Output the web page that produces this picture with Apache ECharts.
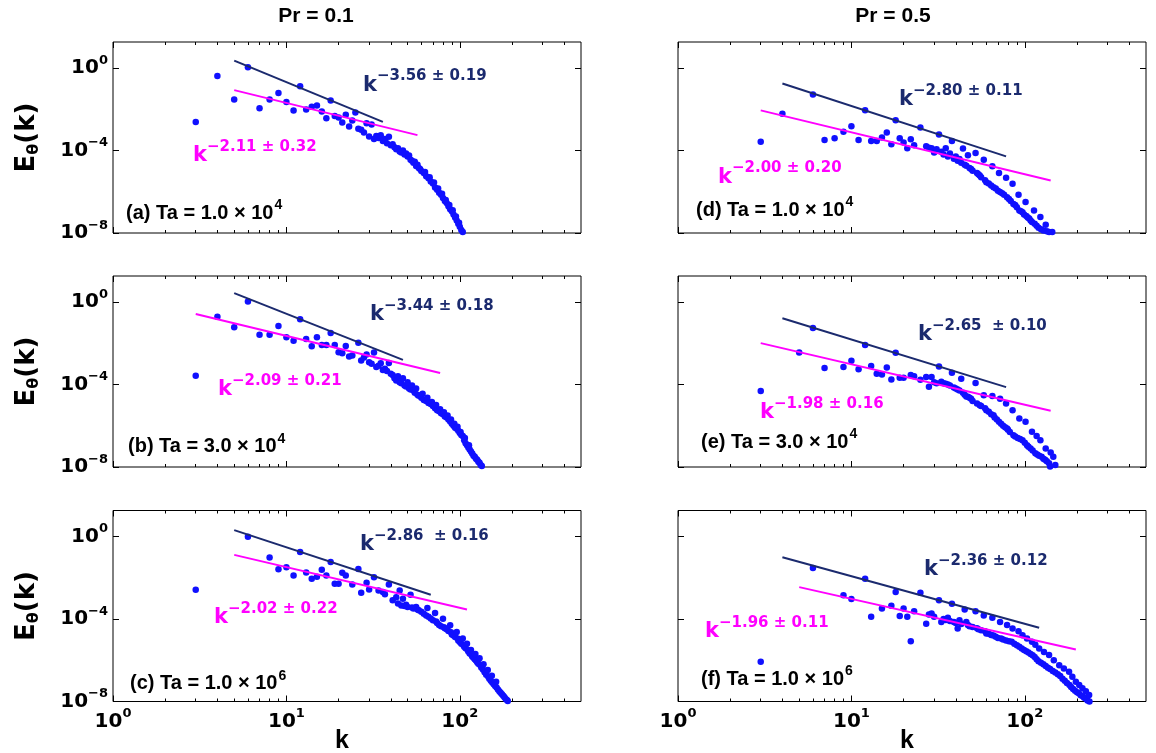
<!DOCTYPE html>
<html>
<head>
<meta charset="utf-8">
<title>Temperature spectra</title>
<script src="https://cdn.jsdelivr.net/npm/echarts@6/dist/echarts.min.js"></script>
<style>
  html, body { margin: 0; padding: 0; background: #fff; }
  #chart { width: 1156px; height: 753px; }
</style>
</head>
<body>
<div id="chart"></div>
<script>
// spectra: [k, log10 E_theta(k)]
const pointsA = [
  [3,-2.62],[4,-0.40],[5,-1.53],[6,0.03],[7,-1.96],[8,-1.53],[9,-1.22],[10,-1.66],[11,-2.07],[12,-0.89],
  [13,-2.02],[14,-1.88],[15,-1.82],[16,-2.12],[17,-2.44],[18,-1.58],[19,-2.33],[20,-2.41],[21,-2.65],[22,-2.27],
  [23,-2.84],[24,-2.55],[25,-2.17],[26,-2.95],[27,-3.0],[28,-3.13],[29,-2.68],[30,-3.33],[31,-2.75],[32,-3.45],
  [33,-3.3],[34,-3.4],[35,-3.26],[36,-3.55],[37,-3.45],[38,-3.65],[39,-3.34],[40,-3.75],[41,-3.7],[42,-3.85],
  [43,-3.94],[44,-3.9],[45,-4.05],[46,-4.1],[47,-4.0],[48,-4.2],[49,-4.15],[50,-4.3],[51,-4.25],[52,-4.45],
  [53,-4.5],[54,-4.6],[55,-4.55],[56,-4.75],[57,-4.7],[58,-4.85],[59,-4.9],[60,-5.0],[62,-5.1],[63,-5.05],
  [64,-5.25],[66,-5.35],[67,-5.3],[68,-5.5],[70,-5.6],[71,-5.55],[72,-5.8],[74,-5.9],[75,-5.85],[76,-6.05],
  [78,-6.15],[79,-6.1],[80,-6.3],[82,-6.45],[83,-6.4],[84,-6.55],[86,-6.7],[87,-6.65],[88,-6.85],[90,-6.95],
  [91,-6.9],[92,-7.1],[94,-7.25],[95,-7.2],[96,-7.4],[98,-7.55],[99,-7.5],[100,-7.7],[102,-7.85],[104,-7.95]
];
const pointsB = [
  [3,-3.58],[4,-0.72],[5,-1.23],[6,0.02],[7,-1.60],[8,-1.60],[9,-1.17],[10,-1.72],[11,-1.88],[12,-0.85],
  [13,-1.80],[14,-2.15],[15,-1.72],[16,-2.09],[17,-2.09],[18,-1.51],[19,-2.09],[20,-2.44],[21,-2.49],[22,-2.14],
  [23,-2.65],[24,-2.6],[26,-1.98],[27,-2.84],[28,-2.7],[29,-2.55],[30,-2.93],[31,-3.0],[32,-2.45],[33,-3.16],
  [34,-3.1],[35,-2.97],[36,-3.3],[37,-3.24],[38,-3.35],[39,-2.96],[40,-3.48],[41,-3.55],[42,-3.7],[43,-3.81],
  [44,-3.6],[45,-3.9],[46,-3.95],[47,-3.7],[48,-4.05],[49,-4.1],[50,-3.9],[51,-4.2],[52,-4.25],[53,-4.05],
  [54,-4.3],[55,-4.4],[56,-4.2],[57,-4.5],[58,-4.55],[60,-4.65],[61,-4.45],[62,-4.75],[64,-4.8],[65,-4.65],
  [66,-4.9],[68,-4.95],[69,-4.85],[70,-5.05],[72,-5.15],[73,-5.0],[74,-5.25],[76,-5.3],[77,-5.2],[78,-5.4],
  [80,-5.45],[81,-5.35],[82,-5.55],[84,-5.6],[85,-5.5],[86,-5.7],[88,-5.8],[89,-5.7],[90,-5.9],[92,-6.0],
  [93,-5.9],[94,-6.1],[96,-6.15],[97,-6.05],[98,-6.25],[100,-6.35],[101,-6.3],[102,-6.45],[104,-6.5],[106,-6.7],
  [107,-6.6],[108,-6.85],[110,-6.95],[112,-7.05],[113,-6.95],[114,-7.15],[116,-7.25],[118,-7.35],[120,-7.45],[122,-7.5],
  [124,-7.6],[126,-7.65],[128,-7.75],[130,-7.8],[132,-7.9],[134,-7.95]
];
const pointsC = [
  [3,-2.59],[6,-0.02],[8,-1.03],[9,-1.59],[10,-1.50],[11,-1.90],[12,-0.76],[13,-1.75],[14,-2.05],[15,-1.96],
  [16,-1.62],[17,-1.90],[18,-1.25],[19,-2.30],[20,-2.30],[21,-1.77],[22,-1.90],[24,-2.33],[26,-1.58],[27,-2.73],
  [29,-2.25],[30,-2.57],[32,-1.98],[34,-2.62],[36,-2.70],[37,-2.8],[39,-2.33],[41,-3.1],[43,-2.95],[44,-3.25],
  [45,-2.62],[46,-3.35],[47,-3.02],[48,-3.38],[49,-3.31],[50,-3.42],[52,-2.83],[53,-3.45],[54,-3.5],[56,-3.42],
  [57,-3.55],[58,-3.58],[60,-3.65],[62,-3.75],[64,-3.83],[65,-3.47],[66,-3.9],[68,-3.98],[70,-4.07],[72,-3.71],
  [73,-4.13],[74,-4.2],[76,-4.3],[78,-4.35],[80,-3.99],[81,-4.4],[82,-4.45],[84,-4.5],[86,-4.58],[88,-4.31],
  [89,-4.65],[90,-4.75],[92,-4.8],[94,-4.88],[96,-4.63],[97,-4.95],[98,-5.05],[100,-5.12],[102,-5.2],[104,-4.95],
  [105,-5.27],[106,-5.35],[108,-5.42],[110,-5.2],[111,-5.5],[112,-5.58],[114,-5.67],[116,-5.51],[117,-5.75],[118,-5.82],
  [120,-5.88],[122,-5.95],[123,-5.7],[124,-6.02],[126,-6.1],[128,-6.17],[130,-5.91],[131,-6.23],[133,-6.35],[136,-6.45],
  [137,-6.2],[139,-6.58],[142,-6.7],[145,-6.48],[146,-6.8],[148,-6.9],[151,-7.0],[153,-6.75],[154,-7.08],[157,-7.17],
  [160,-7.25],[162,-7.04],[163,-7.32],[166,-7.42],[169,-7.5],[172,-7.58],[175,-7.65],[178,-7.72],[181,-7.8],[184,-7.88],
  [187,-7.93],[189,-7.97]
];
const pointsD = [
  [3,-3.58],[4,-2.22],[6,-1.29],[7,-3.50],[8,-3.41],[9,-3.10],[10,-2.83],[11,-3.50],[12,-2.06],[13,-3.54],
  [14,-3.54],[15,-3.38],[16,-3.13],[17,-3.70],[18,-2.54],[19,-3.41],[20,-3.62],[21,-3.90],[22,-3.46],[23,-3.75],
  [25,-2.89],[27,-3.80],[28,-3.87],[29,-3.90],[30,-4.1],[31,-3.95],[32,-3.23],[33,-4.07],[34,-4.2],[35,-3.89],
  [36,-4.3],[37,-4.15],[38,-3.54],[39,-4.4],[40,-4.29],[41,-4.5],[42,-4.42],[43,-4.6],[44,-3.91],[45,-4.7],
  [46,-4.74],[47,-4.23],[48,-4.85],[49,-4.9],[50,-4.98],[52,-4.13],[53,-5.1],[54,-5.15],[55,-5.22],[56,-5.3],
  [58,-4.45],[59,-5.45],[60,-5.54],[62,-5.6],[64,-5.7],[65,-4.77],[66,-5.78],[68,-5.85],[70,-5.95],[71,-5.1],
  [72,-6.02],[74,-6.08],[76,-6.15],[78,-5.33],[79,-6.27],[81,-6.35],[83,-6.45],[85,-5.62],[86,-6.59],[88,-6.65],
  [90,-6.75],[92,-6.15],[93,-6.91],[95,-6.95],[97,-7.0],[99,-7.1],[101,-6.5],[102,-7.18],[104,-7.25],[106,-7.3],
  [108,-7.4],[110,-7.47],[113,-6.91],[114,-7.55],[117,-7.65],[120,-7.75],[123,-7.22],[124,-7.82],[128,-7.88],[132,-7.6],
  [134,-7.92],[138,-7.95],[144,-7.95]
];
const pointsE = [
  [3,-4.32],[5,-2.46],[6,-1.27],[7,-3.21],[9,-3.16],[10,-2.86],[11,-3.26],[12,-2.09],[13,-3.11],[14,-3.48],
  [15,-3.52],[16,-3.18],[17,-3.76],[18,-2.47],[19,-3.68],[20,-3.68],[22,-3.55],[23,-3.6],[25,-3.77],[27,-3.64],
  [28,-4.11],[29,-3.64],[30,-3.9],[31,-3.95],[32,-3.13],[33,-3.87],[34,-3.95],[35,-3.97],[36,-4.0],[37,-4.05],
  [38,-3.44],[39,-4.15],[40,-4.2],[41,-4.25],[42,-4.3],[43,-3.73],[44,-4.4],[45,-4.5],[46,-4.58],[47,-4.6],
  [48,-4.65],[49,-4.7],[50,-4.8],[52,-3.93],[53,-4.92],[55,-5.01],[56,-5.05],[58,-4.53],[59,-5.15],[60,-5.25],
  [62,-5.33],[64,-5.45],[65,-4.56],[66,-5.49],[67,-5.6],[69,-5.7],[71,-5.81],[72,-4.69],[73,-5.9],[75,-6.0],
  [77,-6.08],[78,-4.93],[79,-6.13],[80,-6.2],[82,-6.3],[85,-5.25],[86,-6.46],[88,-6.52],[91,-6.6],[93,-5.65],
  [94,-6.65],[97,-6.7],[100,-6.82],[101,-5.81],[103,-6.95],[105,-7.02],[108,-7.1],[110,-6.29],[111,-7.2],[115,-7.34],
  [117,-6.5],[118,-7.4],[121,-7.45],[123,-6.70],[125,-7.5],[128,-7.6],[131,-7.65],[132,-7.1],[134,-7.72],[138,-7.82],
  [140,-7.98],[141,-7.3],[146,-7.5],[150,-7.9]
];
const pointsF = [
  [3,-6.07],[6,-1.54],[9,-2.86],[10,-3.04],[12,-2.06],[13,-3.89],[15,-3.50],[17,-3.36],[18,-2.70],[19,-3.86],
  [20,-3.50],[21,-3.89],[22,-5.08],[23,-3.63],[25,-2.73],[27,-4.24],[28,-3.79],[29,-3.74],[30,-3.9],[32,-3.10],
  [33,-4.15],[34,-4.0],[35,-4.05],[36,-3.95],[37,-4.1],[38,-3.26],[39,-4.15],[40,-4.2],[41,-4.47],[42,-4.07],
  [43,-4.25],[45,-3.54],[46,-4.15],[47,-4.3],[48,-4.35],[50,-4.39],[52,-3.63],[53,-4.45],[54,-4.5],[56,-4.55],
  [58,-3.83],[59,-4.6],[60,-4.71],[62,-4.72],[64,-4.78],[65,-3.94],[66,-4.8],[68,-4.86],[70,-4.92],[72,-4.15],
  [73,-4.95],[75,-5.0],[78,-5.05],[79,-4.3],[81,-5.08],[84,-5.11],[85,-4.47],[87,-5.2],[90,-5.28],[92,-4.6],
  [93,-5.35],[96,-5.43],[97,-4.79],[99,-5.5],[102,-5.57],[103,-4.95],[105,-5.63],[108,-5.7],[110,-5.11],[111,-5.76],
  [114,-5.85],[115,-5.25],[117,-5.95],[120,-6.05],[121,-5.43],[124,-6.12],[128,-6.2],[129,-5.6],[132,-6.28],[136,-6.36],
  [138,-5.75],[140,-6.42],[145,-6.52],[147,-6.0],[150,-6.6],[155,-6.68],[158,-6.24],[160,-6.76],[165,-6.9],[168,-6.4],
  [170,-7.0],[175,-7.1],[180,-6.56],[181,-7.2],[185,-7.3],[188,-6.8],[190,-7.4],[195,-7.48],[197,-7.04],[200,-7.55],
  [205,-7.6],[206,-7.2],[210,-7.7],[215,-7.36],[216,-7.75],[220,-7.82],[225,-7.5],[226,-7.88],[230,-7.95],[235,-7.68],
  [236,-8.0]
];

// power-law fits, end points [k, log10 E]
const navyFits = [
  [[5,0.35],[36,-2.62]], [[5,0.42],[47,-2.81]], [[5,0.30],[68,-2.83]],
  [[4,-0.76],[78,-4.29]], [[4,-0.80],[78,-4.13]], [[4,-1.01],[121,-4.43]]
];
const magentaFits = [
  [[5,-1.08],[57,-3.26]], [[3,-0.59],[77,-3.45]], [[5,-0.90],[110,-3.54]],
  [[3,-2.06],[141,-5.46]], [[3,-2.00],[141,-5.28]], [[5,-2.46],[197,-5.48]]
];
const navyLabels = ['\u22123.56 \u00b1 0.19', '\u22123.44 \u00b1 0.18', '\u22122.86  \u00b1 0.16',
                    '\u22122.80 \u00b1 0.11', '\u22122.65  \u00b1 0.10', '\u22122.36 \u00b1 0.12'];
const magentaLabels = ['\u22122.11 \u00b1 0.32', '\u22122.09 \u00b1 0.21', '\u22122.02 \u00b1 0.22',
                       '\u22122.00 \u00b1 0.20', '\u22121.98 \u00b1 0.16', '\u22121.96 \u00b1 0.11'];
const panelTags = ['(a) Ta = 1.0 \u00d7 10', '(b) Ta = 3.0 \u00d7 10', '(c) Ta = 1.0 \u00d7 10',
                   '(d) Ta = 1.0 \u00d7 10', '(e) Ta = 3.0 \u00d7 10', '(f) Ta = 1.0 \u00d7 10'];
const tagExps = ['4', '4', '6', '4', '4', '6'];
const columnTitles = ['Pr = 0.1', 'Pr = 0.5'];
const kMax = 500;
const xMajor = [0, 1, 2];
const minorK = [2,3,4,5,6,7,8,9,20,30,40,50,60,70,80,90,200,300,400];
const yMajor = [-8, -4, 0];

// layout
const WIDE = '"DejaVu Sans", "Liberation Sans", sans-serif';
const ARIAL = '"Liberation Sans", Arial, sans-serif';
const NAVY = '#1b2a6e';
const MAGENTA = '#ff00ff';
const DOT = '#1010ff';
const colLeft = [113, 678];
const rowTop = [42, 276, 510.5];
const plotW = 468, plotH = 191;
const yMin = -8, yMax = 1.25;
const navyPos = [[363,85.5],[370,314.7],[360,545],[899,100],[918,335],[924,570]];
const magentaPos = [[193,156],[218,390],[214,618],[718,177.5],[760,413],[705,632]];
const tagPos = [[126,213],[128,446.5],[130,683.5],[696,210],[701,442],[701,679]];

const panels = [pointsA, pointsB, pointsC, pointsD, pointsE, pointsF];
const logKMax = Math.log10(kMax);
const xMinor = minorK.map(k => Math.log10(k));
const toXY = p => [Math.log10(p[0]), p[1]];

function supText(v) { return v < 0 ? '\u2212' + (-v) : String(v); }
function powerLabel(v) {
  if (Math.abs(v - Math.round(v)) > 1e-6) return '';
  return '{b|10}{s|' + supText(Math.round(v)) + '}';
}
function yLabel(v) {
  if (Math.abs(v % 4) > 1e-6) return '';
  return powerLabel(v);
}
const tickRich = {
  b: { fontFamily: WIDE, fontWeight: 'bold', fontSize: 20, color: '#000' },
  s: { fontFamily: WIDE, fontWeight: 'bold', fontSize: 13, color: '#000', padding: [0, 0, 15, 0] }
};

const grid = [], xAxis = [], yAxis = [], series = [];
panels.forEach((pts, i) => {
  const col = Math.floor(i / 3), row = i % 3;
  grid.push({
    left: colLeft[col], top: rowTop[row], width: plotW, height: plotH,
    show: true, borderColor: '#000', borderWidth: 1, backgroundColor: 'transparent'
  });
  const xBase = {
    gridIndex: i, type: 'value', min: 0, max: logKMax, interval: 1,
    axisLine: { show: false, onZero: false }, splitLine: { show: false }
  };
  ['bottom', 'top'].forEach(pos => {
    xAxis.push(Object.assign({}, xBase, {
      position: pos,
      axisTick: { inside: true, length: 6, customValues: xMajor, lineStyle: { color: '#000' } },
      axisLabel: {
        show: pos === 'bottom' && row === 2, customValues: xMajor,
        formatter: powerLabel, rich: tickRich, margin: 6
      }
    }));
    xAxis.push(Object.assign({}, xBase, {
      position: pos,
      axisTick: { inside: true, length: 3, customValues: xMinor, lineStyle: { color: '#000' } },
      axisLabel: { show: false }
    }));
  });
  ['left', 'right'].forEach(pos => {
    yAxis.push({
      gridIndex: i, type: 'value', min: yMin, max: yMax, interval: 4, position: pos,
      axisLine: { show: false, onZero: false }, splitLine: { show: false },
      axisTick: { inside: true, length: 6, customValues: yMajor, lineStyle: { color: '#000' } },
      axisLabel: {
        show: pos === 'left' && col === 0, customValues: yMajor,
        formatter: yLabel, rich: tickRich, margin: 5
      }
    });
  });
  const xi = i * 4, yi = i * 2;
  series.push({
    type: 'line', xAxisIndex: xi, yAxisIndex: yi, data: navyFits[i].map(toXY),
    showSymbol: false, silent: true, lineStyle: { color: NAVY, width: 2 }
  });
  series.push({
    type: 'line', xAxisIndex: xi, yAxisIndex: yi, data: magentaFits[i].map(toXY),
    showSymbol: false, silent: true, lineStyle: { color: MAGENTA, width: 2 }
  });
  series.push({
    type: 'scatter', xAxisIndex: xi, yAxisIndex: yi, data: pts.map(toXY),
    symbolSize: 6.5, itemStyle: { color: DOT, opacity: 1 }
  });
});

// texts
function slopeText(t, pos, color) {
  return {
    type: 'text', x: pos[0], y: pos[1], z: 10,
    style: {
      text: '{k|k}{s|' + t + '}', align: 'left', verticalAlign: 'middle',
      rich: {
        k: { fontFamily: WIDE, fontWeight: 'bold', fontSize: 21, fill: color },
        s: { fontFamily: WIDE, fontWeight: 'bold', fontSize: 15, fill: color, padding: [0, 0, 18, 0] }
      }
    }
  };
}
const graphic = [];
panels.forEach((p, i) => {
  graphic.push(slopeText(navyLabels[i], navyPos[i], NAVY));
  graphic.push(slopeText(magentaLabels[i], magentaPos[i], MAGENTA));
  graphic.push({
    type: 'text', x: tagPos[i][0], y: tagPos[i][1], z: 10,
    style: {
      text: '{b|' + panelTags[i] + '}{s|' + tagExps[i] + '}', align: 'left', verticalAlign: 'middle',
      rich: {
        b: { fontFamily: ARIAL, fontWeight: 'bold', fontSize: 20, fill: '#000' },
        s: { fontFamily: ARIAL, fontWeight: 'bold', fontSize: 14, fill: '#000', padding: [0, 0, 15, 1] }
      }
    }
  });
});
columnTitles.forEach((t, c) => {
  graphic.push({
    type: 'text', x: [316, 893][c], y: 16,
    style: { text: t, font: 'bold 21px ' + ARIAL, fill: '#000', align: 'center', verticalAlign: 'middle' }
  });
  graphic.push({
    type: 'text', x: colLeft[c] + plotW / 2 - 5, y: 741,
    style: { text: 'k', font: 'bold 25px ' + ARIAL, fill: '#000', align: 'center', verticalAlign: 'middle' }
  });
});
rowTop.forEach(top => {
  graphic.push({
    type: 'text', x: 27, y: top + plotH / 2, rotation: Math.PI / 2,
    style: {
      text: '{e|E}{t|\u03b8}{e|(k)}', align: 'center', verticalAlign: 'middle',
      rich: {
        e: { fontFamily: WIDE, fontWeight: 'bold', fontSize: 26, fill: '#000' },
        t: { fontFamily: WIDE, fontWeight: 'bold', fontSize: 16, fill: '#000', padding: [13, 0, 0, 0] }
      }
    }
  });
});

const chart = echarts.init(document.getElementById('chart'));
chart.setOption({
  animation: false,
  backgroundColor: '#fff',
  grid: grid,
  xAxis: xAxis,
  yAxis: yAxis,
  series: series,
  graphic: graphic
});
</script>
</body>
</html>
